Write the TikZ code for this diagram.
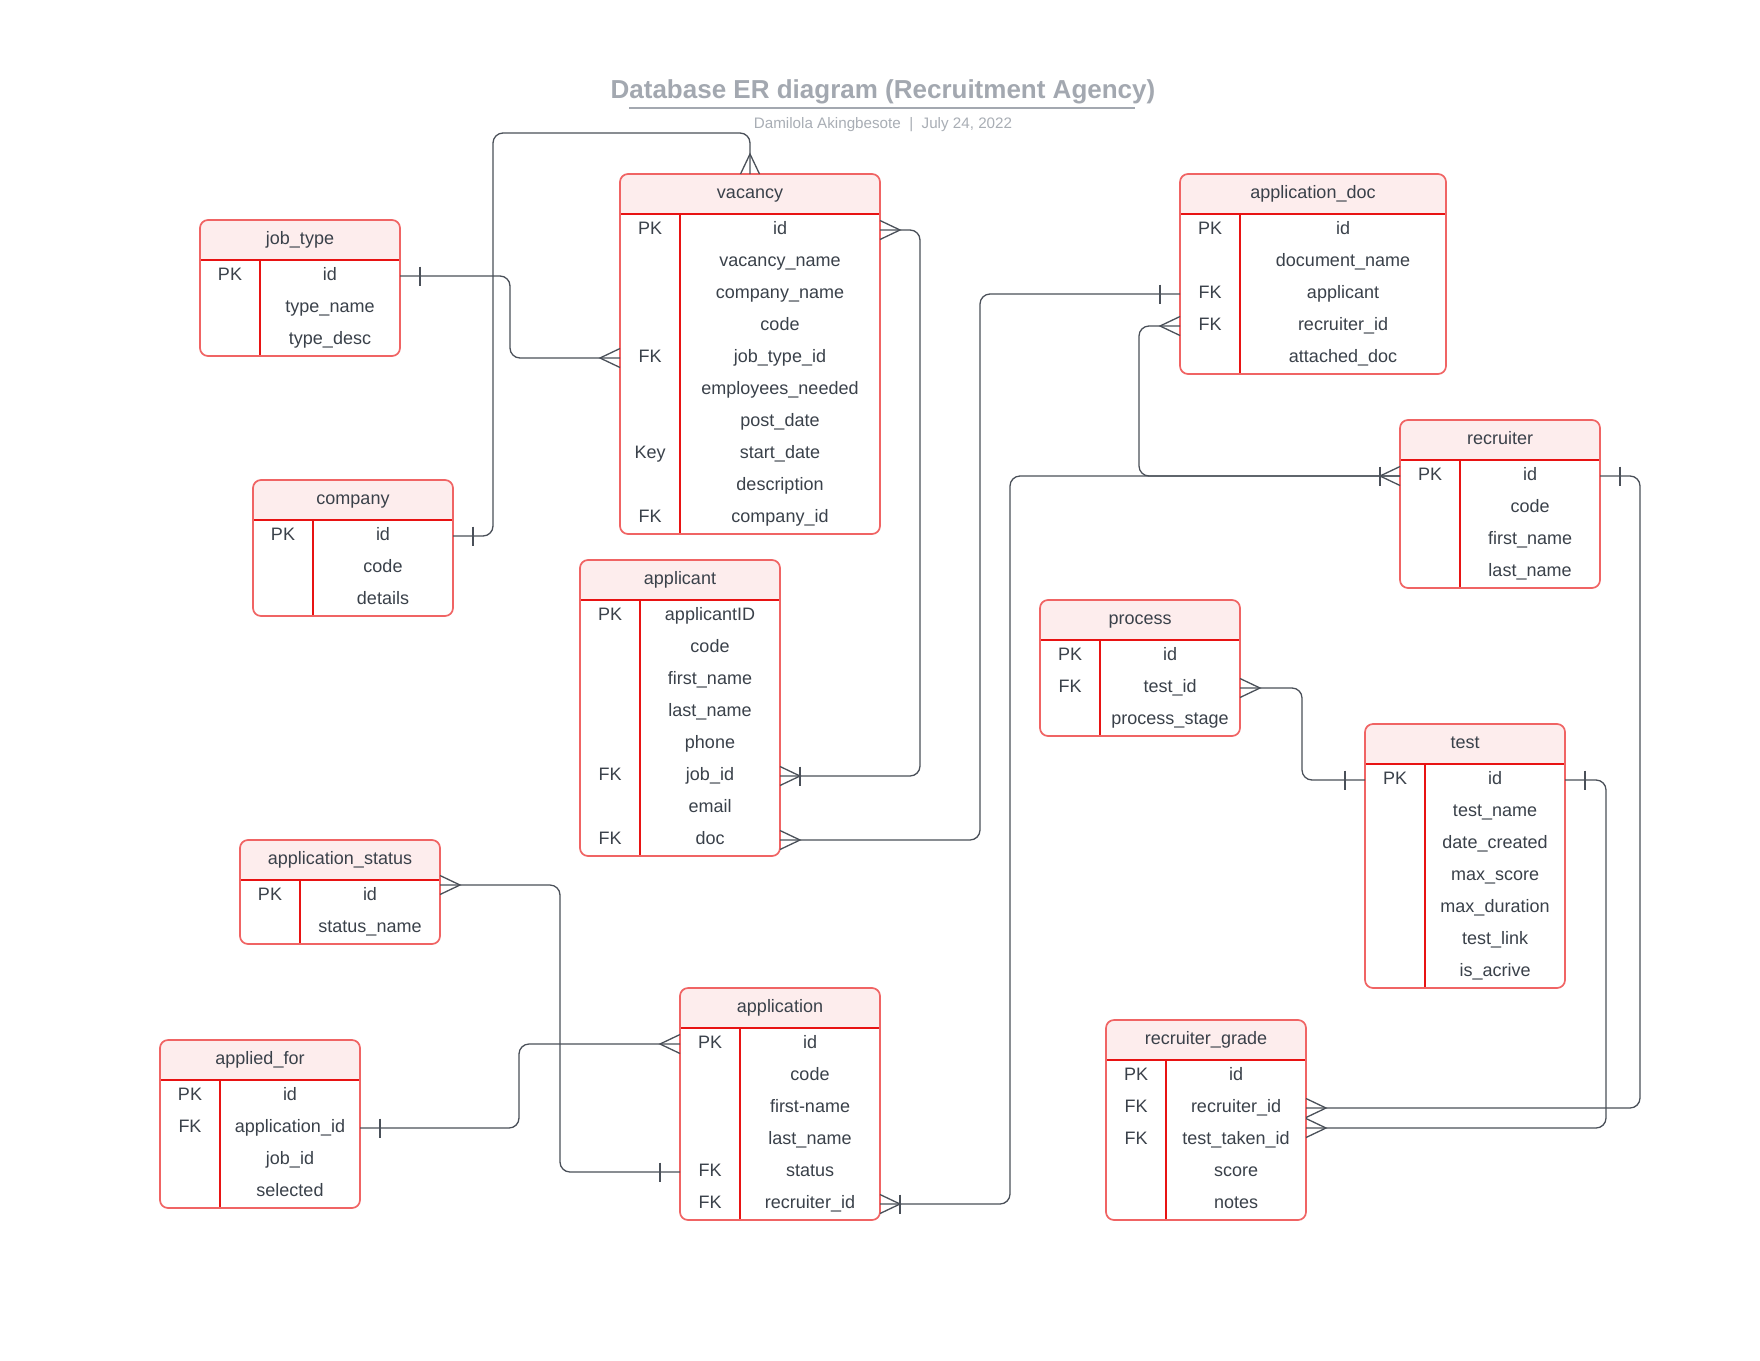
\documentclass[tikz,border=0pt]{standalone}
\usepackage{fontspec}
\setmainfont{Liberation Sans}
\usetikzlibrary{calc}
\definecolor{erHdr}{HTML}{FDEDED}
\definecolor{erRed}{HTML}{E81313}
\definecolor{erFrame}{HTML}{F06464}
\definecolor{erText}{HTML}{3A414A}
\definecolor{erLine}{HTML}{4A5059}
\definecolor{erTitle}{HTML}{A3A8B0}
\definecolor{erSub}{HTML}{A9AEB5}
% #1 name, #2 x, #3 y, #4 width, #5 rows, #6 title, #7 key/field list
\newcommand{\ertable}[7]{%
  \pgfmathsetmacro\erH{40+32*#5}%
  \begin{scope}
    \clip[rounded corners=4pt] (#2,#3) rectangle ++(#4,\erH);
    \fill[erHdr] (#2,#3) rectangle ++(#4,40);
  \end{scope}
  \draw[innerline] (#2,#3+40) -- ++(#4,0);
  \draw[innerline] (#2+60,#3+40) -- ++(0,32*#5);
  \node[frame, minimum width=#4*0.5pt, minimum height=\erH*0.5pt, anchor=north west] (#1) at (#2,#3) {};
  \node[ertext] (#1-title) at (#2+#4/2,#3+24) {#6};
  \coordinate (#1-T) at (#2+#4/2,#3);
  \foreach \k/\f [count=\i] in {#7} {
    \coordinate (#1-L\i) at (#2,#3+40+32*\i-16);
    \coordinate (#1-R\i) at (#2+#4,#3+40+32*\i-16);
    \node[ertext] (#1-k\i) at (#2+30,#3+40+32*\i-12) {\k};
    \node[ertext] (#1-f\i) at (#2+30+#4/2,#3+40+32*\i-12) {\f};
  }%
}
\newcommand{\ercrow}[2]{\draw[conn, sharp corners] ($(#1)+(0,-9.5)$) -- ($(#1)+(#2*20,0)$) -- ($(#1)+(0,9.5)$);}
\newcommand{\ercrowv}[1]{\draw[conn, sharp corners] ($(#1)+(-9.5,0)$) -- ($(#1)+(0,-20)$) -- ($(#1)+(9.5,0)$);}
\newcommand{\ertick}[2]{\draw[conn] ($(#1)+(#2*20,-9.5)$) -- ($(#1)+(#2*20,9.5)$);}
\begin{document}
\begin{tikzpicture}[x=0.5pt,y=-0.5pt,
  ertext/.style={anchor=base, inner sep=0pt, text=erText, font=\fontsize{9pt}{11pt}\selectfont},
  frame/.style={draw=erFrame, line width=0.85pt, rounded corners=4pt, inner sep=0pt, outer sep=0pt},
  innerline/.style={draw=erRed, line width=0.7pt},
  conn/.style={draw=erLine, line width=0.65pt, rounded corners=5pt},
]
\fill[white] (0,0) rectangle (1760,1360);
\useasboundingbox (0,0) rectangle (1760,1360);

\node[anchor=base, inner sep=0pt, text=erTitle, font=\fontsize{13pt}{15pt}\selectfont\bfseries] (title) at (883,98) {Database ER diagram (Recruitment Agency)};
\draw[erTitle, line width=1pt] ($(title.base west)+(19,10)$) -- ($(title.base east)+(-21,10)$);
\node[anchor=base, inner sep=0pt, text=erSub, font=\fontsize{7.6pt}{9pt}\selectfont] (subtitle) at (883,128) {Damilola Akingbesote\ \ |\ \ July 24, 2022};

\ertable{jobtype}{200}{220}{200}{3}{job\_type}{PK/id,/type\_name,/type\_desc}
\ertable{vacancy}{620}{174}{260}{10}{vacancy}{PK/id,/vacancy\_name,/company\_name,/code,FK/job\_type\_id,/employees\_needed,/post\_date,Key/start\_date,/description,FK/company\_id}
\ertable{appdoc}{1180}{174}{266}{5}{application\_doc}{PK/id,/document\_name,FK/applicant,FK/recruiter\_id,/attached\_doc}
\ertable{company}{253}{480}{200}{3}{company}{PK/id,/code,/details}
\ertable{recruiter}{1400}{420}{200}{4}{recruiter}{PK/id,/code,/first\_name,/last\_name}
\ertable{applicant}{580}{560}{200}{8}{applicant}{PK/applicantID,/code,/first\_name,/last\_name,/phone,FK/job\_id,/email,FK/doc}
\ertable{process}{1040}{600}{200}{3}{process}{PK/id,FK/test\_id,/process\_stage}
\ertable{test}{1365}{724}{200}{7}{test}{PK/id,/test\_name,/date\_created,/max\_score,/max\_duration,/test\_link,/is\_acrive}
\ertable{status}{240}{840}{200}{2}{application\_status}{PK/id,/status\_name}
\ertable{appliedfor}{160}{1040}{200}{4}{applied\_for}{PK/id,FK/application\_id,/job\_id,/selected}
\ertable{application}{680}{988}{200}{6}{application}{PK/id,/code,/first-name,/last\_name,FK/status,FK/recruiter\_id}
\ertable{grade}{1106}{1020}{200}{5}{recruiter\_grade}{PK/id,FK/recruiter\_id,FK/test\_taken\_id,/score,/notes}

% job_type -> vacancy
\draw[conn] (jobtype-R1) -- ++(110,0) |- (vacancy-L5);
\ertick{jobtype-R1}{1} \ercrow{vacancy-L5}{-1}
% company -> vacancy
\draw[conn] (company-R1) -- ++(40,0) |- ($(vacancy-T)+(0,-41)$) -- (vacancy-T);
\ertick{company-R1}{1} \ercrowv{vacancy-T}
% vacancy -> applicant.job_id
\draw[conn] (vacancy-R1) -- ++(40,0) |- (applicant-R6);
\ercrow{vacancy-R1}{1} \ercrow{applicant-R6}{1} \ertick{applicant-R6}{1}
% applicant.doc -> application_doc.applicant
\draw[conn] (applicant-R8) -- ++(200,0) |- (appdoc-L3);
\ercrow{applicant-R8}{1} \ertick{appdoc-L3}{-1}
% application_doc.recruiter_id -> recruiter
\draw[conn] (appdoc-L4) -- ++(-41,0) |- (recruiter-L1);
\ercrow{appdoc-L4}{-1} \ercrow{recruiter-L1}{-1} \ertick{recruiter-L1}{-1}
% application.recruiter_id -> recruiter
\draw[conn] (application-R6) -- ++(130,0) |- (recruiter-L1);
\ercrow{application-R6}{1} \ertick{application-R6}{1}
% recruiter -> recruiter_grade.recruiter_id
\draw[conn] (recruiter-R1) -- ++(40,0) |- (grade-R2);
\ertick{recruiter-R1}{1} \ercrow{grade-R2}{1}
% test -> recruiter_grade.test_taken_id
\coordinate (grade-tt) at ($(grade-R3)+(0,-12)$);
\draw[conn] (test-R1) -- ++(41,0) |- (grade-tt);
\ertick{test-R1}{1} \ercrow{grade-tt}{1}
% process.test_id -> test
\draw[conn] (process-R2) -- ++(62,0) |- (test-L1);
\ercrow{process-R2}{1} \ertick{test-L1}{-1}
% application_status -> application.status
\coordinate (status-out) at ($(status-R1)+(0,-11)$);
\draw[conn] (status-out) -- ++(120,0) |- (application-L5);
\ercrow{status-out}{1} \ertick{application-L5}{-1}
% applied_for.application_id -> application
\draw[conn] (appliedfor-R2) -- ++(159,0) |- (application-L1);
\ertick{appliedfor-R2}{1} \ercrow{application-L1}{-1}
\end{tikzpicture}
\end{document}
